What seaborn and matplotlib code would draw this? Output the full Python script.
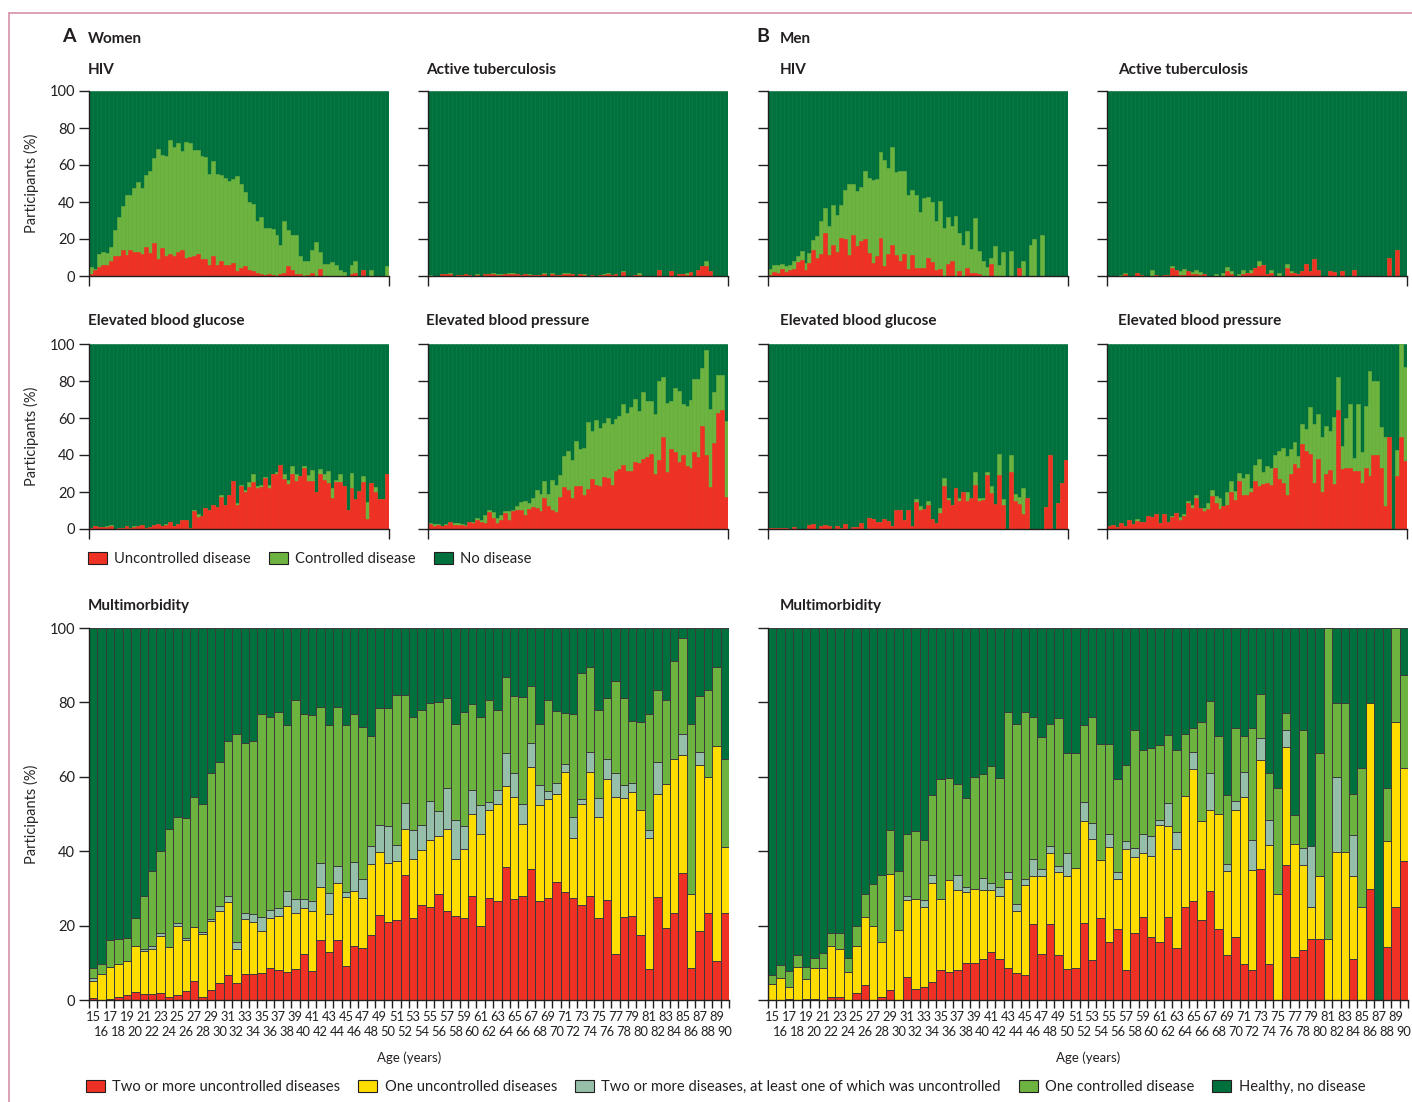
import numpy as np
import matplotlib
matplotlib.use("Agg")
import matplotlib.pyplot as plt
import matplotlib.patches as mpatches
from matplotlib.lines import Line2D
import seaborn as sns

# ---------------- data (percent of participants) ----------------
ages = list(range(15, 91))
stack_top = [100] * 76   # whole bar = 100 %, remainder is "no disease"

# top panels: "any" = top of light green (any disease), "unc" = top of red (uncontrolled)
w_hiv_any = [5, 4, 12, 13, 12.6, 15.7, 25, 32, 38, 44,
             44, 47.5, 51, 47.5, 54.6, 57, 64, 68.6, 65.4, 65,
             73.5, 70, 72, 67.6, 72.4, 72, 68, 68, 65, 64.3,
             55, 62, 55, 54.6, 53, 51.4, 52.4, 54, 50, 45.4,
             40, 39, 30, 32, 26, 26, 25.4, 22, 17, 30,
             25, 22, 22, 11, 8, 8, 14, 18.4, 13, 6.5,
             6.5, 7.6, 6, 3, 2, 0, 6, 8, 0, 3,
             0, 3, 0, 0, 0, 5.5]
w_hiv_unc = [1, 3, 5, 6, 6, 8, 11, 11, 14, 11.5,
             14, 13, 13, 12, 15.5, 12.5, 18, 9, 15, 11,
             12, 11, 13, 14, 10, 10.5, 11, 12, 9, 9,
             6, 11, 6, 8, 6, 6, 7, 2.5, 4.5, 5.4,
             3, 2.5, 1.5, 1, 0.5, 1, 0.5, 0, 1, 1.5,
             5.5, 3, 1, 1, 0, 0.5, 1.5, 0, 4, 0,
             0, 0, 0, 0, 0, 0, 1, 1.5, 0, 3,
             0, 0, 0, 0, 0, 0]

w_tb_any = [0.5, 0, 0, 1, 1, 1.5, 0, 0.5, 0.5, 1,
            0.3, 0, 1.3, 0, 1, 1, 1.8, 1, 1, 1,
            1.5, 1.8, 1, 0.5, 1, 1.3, 0.3, 0.8, 0.5, 1.8,
            0, 1.5, 0.8, 0.3, 1.8, 1.5, 1, 0, 1, 1.3,
            0, 0.3, 0, 0.5, 1, 1.5, 0.3, 1, 0, 2.5,
            0, 0, 0.8, 1.5, 0, 0, 0, 0, 3.5, 0,
            0, 2.5, 0, 1, 1, 1.8, 2, 0, 3.2, 5.4,
            8.1, 2.5, 0, 0, 0, 0]
w_tb_unc = [0, 0, 0, 1, 1, 1, 0, 0.5, 0.5, 1,
            0.3, 0, 0.3, 0, 1, 1, 1, 0.5, 0.5, 1,
            1, 1, 1, 0.5, 1, 0.5, 0.3, 0.3, 0.5, 1,
            0, 1, 0.8, 0.3, 1, 1, 1, 0, 1, 0.3,
            0, 0.3, 0, 0.5, 0.5, 1, 0.3, 1, 0, 2,
            0, 0, 0.5, 0.3, 0, 0, 0, 0, 3.5, 0,
            0, 2.5, 0, 1, 1, 0.3, 2, 0, 3.2, 5.4,
            5.4, 2.5, 0, 0, 0, 0]

w_glu_any = [0.5, 1.5, 1, 1, 1.5, 2, 0, 0.5, 0.5, 1.5,
             0.3, 1.5, 1.5, 2, 0.3, 1, 2, 2.5, 1.5, 2.8,
             3.6, 1.5, 2.7, 5, 5, 0.5, 10.3, 8.3, 7, 11.4,
             10.5, 13, 12, 18.4, 13, 18.4, 26, 14, 24, 21,
             25.6, 29.5, 23.5, 24, 28, 24, 29.5, 31, 34.5, 30,
             26.5, 34, 29.8, 28.5, 34, 29, 32, 20, 32.5, 30,
             31.5, 22, 26.5, 30, 23, 10.5, 30.5, 16, 20.5, 28.5,
             14.5, 25, 22.5, 16, 16, 29.5]
w_glu_unc = [0.5, 1.5, 1, 1, 1, 1.5, 0, 0.5, 0.5, 1.5,
             0.3, 1, 1.5, 2, 0.3, 1, 2, 2.5, 1.5, 2,
             3.6, 1.5, 2.7, 5, 5, 0.5, 10, 6.5, 7, 11.4,
             10.5, 13, 12, 17.5, 13, 18.4, 26, 13, 23.5, 20,
             22.5, 25.5, 22, 22.5, 27.5, 22, 29.5, 30, 34.5, 27,
             24.5, 29.5, 26, 28.5, 33, 26, 26, 20, 29.5, 26.5,
             25, 17, 25.5, 25.5, 23, 10.5, 22, 16, 20.5, 25.5,
             5.5, 25, 20, 16, 16, 29.5]

w_bp_any = [3, 2.5, 2.5, 1.5, 2.5, 4, 3.5, 3, 2.5, 2,
            4, 4, 6, 5, 7.5, 10.5, 9, 6, 7.5, 10,
            10, 10.5, 12.6, 14.5, 15, 14, 16.7, 21, 19, 26,
            19, 26.5, 24, 29, 39.5, 42, 37.5, 47.5, 43.5, 44,
            58, 53, 59, 54.5, 57.5, 60, 57, 59.5, 61, 67.5,
            62.5, 66, 70.5, 64, 74, 69, 69, 62, 80, 82,
            68, 69, 76, 74.5, 67.5, 66.5, 70, 81, 81, 87,
            97, 65, 74, 83, 83.5, 58.5]
w_bp_unc = [2.5, 1.5, 2.3, 1.5, 2, 3.6, 2, 2, 2, 1.5,
            3.6, 3, 5, 4, 3, 9, 6, 3, 5, 8.5,
            5, 10, 10.5, 10.5, 7.5, 11, 12, 11.5, 9.5, 16.5,
            12.6, 10.5, 9, 17.5, 22.5, 21, 16.5, 23, 23, 18.5,
            21.5, 27, 24, 23.5, 28, 27.5, 24, 31.5, 32.5, 34.5,
            31.5, 31.5, 36, 35.5, 38, 39, 40.5, 30, 37.5, 49.5,
            31, 43, 41.5, 36, 40, 34, 33, 41.5, 39, 55.5,
            40, 22.5, 46.5, 62.5, 64.5, 17.5]

m_hiv_any = [3.6, 6, 6, 6.5, 5.4, 6, 8, 10.8, 13.5, 7,
             12.4, 19.5, 21.6, 30, 36.8, 27, 38.4, 33, 38.4, 46.5,
             50, 50, 46, 48, 56.8, 53, 52, 52.4, 67, 62.7,
             58.4, 69.7, 56.2, 56.8, 56.8, 43.8, 46.5, 43.8, 34.6, 42,
             42.7, 40, 30, 40.5, 26, 32, 27, 32.4, 23, 16.8,
             24.3, 14.6, 31.4, 13.5, 8, 5, 9.7, 16.2, 6, 13,
             0, 13.5, 0, 4.3, 8, 0, 16.8, 20, 0, 22,
             0, 0, 0, 0, 0, 0]
m_hiv_unc = [0.5, 2, 1.5, 3.6, 2.2, 3.2, 3.8, 7.6, 8.6, 3.2,
             7, 14, 10, 12, 23, 11.3, 17, 13, 20.5, 20,
             11.5, 22, 16, 19, 20, 12.4, 7, 10.8, 20.5, 5.4,
             11.8, 17, 11.4, 8, 12, 3.8, 11.4, 4.3, 4.3, 4.3,
             10, 7.6, 3.2, 4, 0, 6.5, 8, 0, 2.5, 0,
             4.3, 1.4, 1.4, 1, 0, 0, 6.5, 0, 0, 0,
             0, 0, 0, 4.3, 0, 0, 0, 0, 0, 0,
             0, 0, 0, 0, 0, 0]

m_tb_any = [0, 0, 0, 0.5, 1.5, 0, 0, 1.4, 0.5, 0,
            0, 3.4, 0.3, 0, 0.3, 0.3, 5.5, 3.4, 2.5, 3.9,
            2.5, 2, 3.5, 2, 1, 0, 0, 1, 0, 1.5,
            5, 2.5, 0, 1, 3.4, 1.5, 3.5, 4.3, 8.2, 6,
            1, 3, 0, 1.5, 0, 6.3, 2.5, 1.5, 1, 2.5,
            6.5, 2.5, 9, 3.4, 0, 0, 2.5, 2, 0, 2.5,
            0, 0, 3, 0, 0, 0, 0, 0, 0, 0,
            0, 10, 0, 14, 0, 0]
m_tb_unc = [0, 0, 0, 0, 1, 0, 0, 1.4, 0.5, 0,
            0, 0, 0.3, 0, 0.3, 0.3, 4.5, 3.4, 0.5, 0.5,
            2.5, 1, 1, 0.5, 1, 0, 0, 0, 0, 0,
            2.5, 1, 0, 0, 1, 1.5, 1.5, 4.3, 5.5, 6,
            1, 1.5, 0, 0, 0, 4.3, 1.5, 1.5, 1, 2.5,
            6.5, 2.5, 9, 3.4, 0, 0, 2.5, 2, 0, 2.5,
            0, 0, 3, 0, 0, 0, 0, 0, 0, 0,
            0, 10, 0, 14, 0, 0]

m_glu_any = [0.8, 0.5, 0.3, 0.3, 0.3, 0, 1, 0, 0, 0,
             2, 2.5, 0, 1.5, 2, 1.5, 0, 1.5, 0.5, 2.5,
             0, 1, 1, 3.5, 0, 6, 5.5, 4, 4, 5.5,
             4.5, 1.5, 10.5, 10.5, 5, 10.5, 1.5, 16.2, 12.5, 11,
             15, 5.5, 3.5, 11.2, 27.3, 17, 13, 22, 16.5, 20,
             20, 16.5, 31, 17, 17, 31, 23, 13.5, 40.5, 16,
             0, 40, 19, 17.5, 22, 16.5, 0, 0, 0, 0,
             12, 40, 0, 14, 25, 37.5]
m_glu_unc = [0.8, 0.5, 0.3, 0.3, 0.3, 0, 1, 0, 0, 0,
             2, 2.5, 0, 1.5, 2, 1.5, 0, 1.5, 0.5, 2.5,
             0, 1, 1, 3.5, 0, 6, 5.5, 4, 4, 5.5,
             4.5, 1.5, 10.5, 10.5, 5, 10.5, 1.5, 14.6, 10.5, 11,
             13, 5.5, 3.5, 8.5, 23.5, 15.5, 13, 22, 15, 20,
             15, 16.5, 24, 15, 15.5, 29, 19.5, 13.5, 29, 13,
             0, 31, 15, 13.5, 8, 16.5, 0, 0, 0, 0,
             12, 40, 0, 14, 25, 37.5]

m_bp_any = [1.5, 2, 1, 3.5, 1.5, 5, 2.5, 5.5, 4, 4,
            7, 6.5, 8, 3, 8, 4, 7, 8.5, 6.5, 8,
            15, 13, 18.5, 11.5, 11.5, 14, 21, 18, 17, 12.5,
            20, 26, 20.5, 30.5, 27.5, 29.5, 22, 34.5, 38, 31,
            34, 33, 40, 42, 44, 39.5, 43.5, 47, 39.5, 56.5,
            54, 66, 57, 62, 50, 55.5, 53, 60.5, 82, 45,
            60, 67.6, 38.4, 67.6, 41.6, 66.5, 85.4, 80, 80, 55,
            49.7, 49.7, 0, 42.7, 100, 87.4]
m_bp_unc = [1.5, 2, 1, 3.5, 1.5, 5, 2.5, 4.5, 4, 4,
            7, 6.5, 8, 3, 8, 4, 6.5, 8.5, 5, 7,
            14, 11.5, 16.5, 11.5, 10, 11, 18, 14, 11, 12.5,
            13, 20, 15.5, 26, 18.5, 18.5, 20, 26, 23.5, 24.5,
            25, 24, 33, 27, 25, 18.5, 29.5, 35, 33, 46,
            42, 40.5, 25, 38, 20, 29.5, 32, 24.5, 64.3, 32.4,
            33, 33, 31.4, 31.4, 24.9, 33, 28.6, 40, 40, 33,
            12.4, 49.7, 0, 28.8, 49.7, 37]

# multimorbidity: tops of each stacked segment (red, yellow, grey-green, light green)
w_mm_red = [0.5, 0, 0.3, 0.8, 1.3, 2.2, 1.5, 1.5, 1.8, 0.9,
            1.3, 2.5, 5.1, 0.9, 2.7, 4.5, 6.8, 4.5, 7.1, 7.1,
            7.2, 8.5, 8.1, 7.5, 8.4, 12.3, 7.7, 16.2, 12.8, 16.2,
            9.2, 14.4, 13.9, 17.5, 22.9, 20.9, 21.6, 33.7, 22, 25.6,
            25, 28.5, 23.8, 22.5, 22, 28, 19.8, 27.4, 26.5, 35.8,
            27.1, 27.9, 35.2, 26.5, 27.4, 31.6, 29.1, 27.4, 25.6, 28,
            22, 27, 12.4, 22.2, 22.5, 17.5, 8.3, 27.7, 19.3, 23.5,
            34.1, 8.5, 18.6, 23.4, 10.5, 23.5]
w_mm_yel = [5, 7, 8.8, 9.6, 10.6, 14.4, 13.2, 13.7, 17.2, 14.2,
            20, 16.2, 19.6, 17.7, 21.3, 23.8, 26.3, 13.7, 21.7, 21.1,
            18.6, 22, 22.5, 25.4, 23.4, 24.7, 23.8, 30.5, 23.1, 31.4,
            27.7, 29.4, 27.4, 36.6, 39.8, 36.8, 37.3, 46.1, 37.9, 40.4,
            43.1, 44, 46.1, 37.9, 40.6, 49.9, 44.7, 51.2, 52.6, 57.5,
            54.5, 47.2, 62.6, 52.3, 54.1, 55.5, 61.4, 43.6, 52.7, 61.4,
            49.1, 59.5, 54.6, 54.4, 56, 51, 43.6, 55.4, 58.1, 64.7,
            65.8, 28.6, 63.1, 60, 68.3, 41.1]
w_mm_gry = [6, 7, 8.8, 9.6, 10.6, 14.4, 13.7, 14.5, 18, 14.2,
            20.7, 16.6, 19.6, 18.2, 21.7, 25.2, 28, 15.5, 23.4, 23.1,
            22.3, 24.3, 24.7, 29.2, 27.1, 27.1, 26.5, 36.8, 28.8, 36.1,
            29, 37, 32.5, 41.5, 47, 46.7, 41.6, 53, 45.8, 47,
            53.6, 50.8, 57, 48.3, 46.7, 56.4, 52.4, 53.3, 56.4, 66.5,
            61.1, 52.7, 69.2, 57.8, 56.3, 58.2, 63.5, 49.1, 54.1, 66.7,
            54.2, 64.9, 60.9, 57.8, 58.4, 51, 45.8, 64, 58.1, 64.7,
            71.4, 28.6, 66.7, 60, 68.3, 41.1]
w_mm_grn = [8.7, 9.7, 16, 16.4, 16.8, 22, 27.9, 34.6, 40, 46,
            49.1, 48.9, 54.5, 52.7, 61.1, 64, 69.5, 71.6, 69, 69.6,
            77, 76.1, 77.4, 74, 80.6, 76.9, 76.6, 78.8, 73.8, 78.8,
            73.8, 76.9, 73.4, 71, 78.6, 78.6, 82, 82, 76.2, 78,
            79.9, 80.2, 81.2, 74.1, 77.3, 79.5, 76.2, 80.7, 77.9, 86.9,
            81.8, 81.5, 84.5, 74.3, 80.7, 77.7, 77.1, 76.8, 87.8, 89.4,
            78, 81.1, 85.8, 81.1, 75, 74.6, 77, 83.3, 80.6, 91.2,
            97.2, 74.3, 81.6, 83.4, 89.4, 64.7]

m_mm_red = [0, 0, 0.3, 0, 0.4, 0.3, 0, 0.7, 0.7, 0,
            2, 3.9, 0, 0.9, 2.7, 0, 6.1, 3, 3.4, 4.9,
            8.1, 7.6, 8.1, 9.9, 9.9, 11, 13, 11, 8.5, 7.2,
            6.7, 20.5, 12.3, 20.5, 12, 8.3, 8.7, 20.7, 10.8, 22,
            15.5, 19.1, 8.1, 18.1, 22.2, 16.9, 15.5, 22.2, 13.9, 25,
            26.5, 21.6, 29.2, 19, 12.1, 16.9, 9.6, 8.1, 35.2, 9.6,
            0, 36.2, 11.5, 13.5, 16.4, 16.4, 0, 0, 0, 11,
            0, 29.8, 0, 14.2, 25, 37.3]
m_mm_yel = [4.2, 5.8, 3.6, 9, 5.6, 8.5, 8.5, 14.4, 13.7, 7.6,
            14.6, 22.2, 19.8, 15.5, 33.9, 18.7, 26.8, 27.1, 25, 31.4,
            27.1, 32.3, 29.5, 28.9, 29.8, 29.5, 29.5, 28, 32.5, 24,
            31, 33.2, 33.2, 39.5, 34.3, 33.2, 35.5, 48.1, 43.3, 37.6,
            41.1, 32.5, 40.7, 38.5, 39.5, 38.8, 47, 46.7, 40.6, 54.8,
            62.2, 48.2, 51, 49.9, 34.6, 51, 54.6, 34.9, 64.5, 41.8,
            28.5, 68.1, 42, 36.2, 24.9, 33.2, 16.4, 39.8, 39.8, 33.2,
            24.9, 79.8, 0, 42.7, 74.8, 62.3]
m_mm_gry = [4.2, 5.8, 3.6, 9, 5.6, 8.5, 8.5, 14.4, 13.7, 7.6,
            14.6, 22.2, 19.8, 15.5, 33.9, 18.7, 27.9, 27.1, 26.8, 33.5,
            27.1, 32.3, 33.7, 30.3, 29.8, 32.8, 31.4, 30.3, 34.3, 25.9,
            32.6, 38, 35.2, 41.3, 36.1, 39.5, 35.5, 53.3, 47.6, 37.6,
            44.7, 34.4, 42.7, 40.9, 44.7, 44, 48.5, 53, 45.2, 54.8,
            66.7, 48.2, 60.9, 49.9, 36.6, 53.6, 61.3, 43.1, 70.5, 48.3,
            28.5, 72.6, 42, 40.9, 41.5, 33.2, 16.4, 59.9, 39.8, 44.3,
            24.9, 79.8, 0, 42.7, 74.8, 62.3]
m_mm_grn = [6.6, 9.3, 7.9, 12, 9, 11.2, 12.6, 18.1, 18, 11.2,
            19.9, 28.5, 31.3, 33.5, 45.6, 34.6, 44.7, 45.4, 43.1, 55,
            59.5, 59.7, 58.1, 54.4, 59.9, 60.8, 62.9, 59.7, 77.4, 74.1,
            77.4, 76.2, 70.8, 74.1, 75.9, 66.5, 66.5, 74, 76.1, 68.7,
            68.7, 59.5, 63.2, 72.6, 67.1, 67.7, 68.5, 71.2, 67.1, 71.6,
            73.2, 74.8, 80.4, 71, 55, 73, 71, 73, 82.2, 61.1,
            56.9, 77.1, 49.7, 72.6, 41.5, 66.5, 100, 79.8, 79.8, 55.4,
            62.3, 79.8, 0, 56.9, 100, 87.4]

RED = "#EE3124"
LGREEN = "#6DB33F"
DGREEN = "#00703C"
YELLOW = "#FFDD00"
GREY = "#95BFA8"
INK = "#231F20"

# ---------------- figure ----------------
sns.set_style("ticks")
plt.rcParams["font.family"] = ["Lato", "DejaVu Sans"]
plt.rcParams["text.color"] = INK
plt.rcParams["axes.edgecolor"] = INK
plt.rcParams["xtick.color"] = INK
plt.rcParams["ytick.color"] = INK

W, H = 1412, 1102
fig = plt.figure(figsize=(W / 100, H / 100), dpi=100)


def box(left, top, width, height):
    return [left / W, 1 - (top + height) / H, width / W, height / H]


def ftext(x, y, s, **kw):
    fig.text(x / W, 1 - y / H, s, va="center", ha=kw.pop("ha", "left"), **kw)


def small_panel(left, top, any_, unc, labels):
    ax = fig.add_axes(box(left, top, 300, 185))
    for vals, col in [(stack_top, DGREEN), (any_, LGREEN), (unc, RED)]:
        sns.barplot(x=ages, y=vals, color=col, saturation=1, width=1,
                    errorbar=None, linewidth=0.4, edgecolor=col, ax=ax)
    ax.set_xlim(-0.5, 75.5)
    ax.set_ylim(0, 100)
    ax.set_yticks(range(0, 101, 20))
    ax.set_xticks([-0.5, 75.5])
    ax.set_xticklabels([])
    ax.set_xlabel("")
    ax.tick_params(axis="both", length=7, width=1, labelsize=10.5, pad=3)
    sns.despine(ax=ax)
    for sp in ["left", "bottom"]:
        ax.spines[sp].set_linewidth(1)
        ax.spines[sp].set_zorder(5)
    if labels:
        ax.set_ylabel("Participants (%)", fontsize=10.5)
        ax.yaxis.set_label_coords(-0.167, 0.5)
    else:
        ax.set_yticklabels([])
        ax.set_ylabel("")
    return ax


def multi_panel(left, red, yel, gry, grn, labels):
    ax = fig.add_axes(box(left, 628, 640, 372))
    for vals, col in [(stack_top, DGREEN), (grn, LGREEN), (gry, GREY),
                      (yel, YELLOW), (red, RED)]:
        sns.barplot(x=ages, y=vals, color=col, saturation=1, width=1,
                    errorbar=None, linewidth=0.7, edgecolor="#3a3a3a", ax=ax)
    ax.set_xlim(-0.5, 75.5)
    ax.set_ylim(0, 100)
    ax.set_yticks(range(0, 101, 20))
    # odd ages on the upper row as tick labels, even ages on a lower row
    ax.set_xticks(range(0, 76, 2))
    ax.set_xticklabels([str(a) for a in ages[::2]], fontsize=9.3)
    for i in range(1, 76, 2):
        ax.text(i, -0.086, str(ages[i]), transform=ax.get_xaxis_transform(),
                ha="center", va="center", fontsize=9.3)
    ax.set_xticks(np.arange(-0.5, 76, 1), minor=True)
    ax.tick_params(axis="x", which="major", length=0, pad=8)
    ax.tick_params(axis="x", which="minor", length=6, width=1)
    ax.tick_params(axis="y", length=7, width=1, labelsize=10.5, pad=3)
    ax.set_xlabel("")
    sns.despine(ax=ax)
    for sp in ["left", "bottom"]:
        ax.spines[sp].set_linewidth(1)
        ax.spines[sp].set_zorder(5)
    if labels:
        ax.set_ylabel("Participants (%)", fontsize=10.5)
        ax.yaxis.set_label_coords(-0.078, 0.5)
    else:
        ax.set_yticklabels([])
        ax.set_ylabel("")
    return ax


small_panel(89, 91, w_hiv_any, w_hiv_unc, True)
small_panel(428, 91, w_tb_any, w_tb_unc, False)
small_panel(768, 91, m_hiv_any, m_hiv_unc, False)
small_panel(1107, 91, m_tb_any, m_tb_unc, False)
small_panel(89, 344, w_glu_any, w_glu_unc, True)
small_panel(428, 344, w_bp_any, w_bp_unc, False)
small_panel(768, 344, m_glu_any, m_glu_unc, False)
small_panel(1107, 344, m_bp_any, m_bp_unc, False)
multi_panel(89, w_mm_red, w_mm_yel, w_mm_gry, w_mm_grn, True)
multi_panel(768, m_mm_red, m_mm_yel, m_mm_gry, m_mm_grn, False)

# titles
ftext(62, 37, "A", fontsize=14, fontweight="bold")
ftext(88, 39, "Women", fontsize=11, fontweight="bold")
ftext(756, 37, "B", fontsize=14, fontweight="bold")
ftext(780, 39, "Men", fontsize=11, fontweight="bold")
for x, y, s in [(88, 70, "HIV"), (426, 70, "Active tuberculosis"),
                (780, 70, "HIV"), (1118, 70, "Active tuberculosis"),
                (88, 321, "Elevated blood glucose"), (426, 321, "Elevated blood pressure"),
                (780, 321, "Elevated blood glucose"), (1118, 321, "Elevated blood pressure"),
                (88, 606, "Multimorbidity"), (780, 606, "Multimorbidity")]:
    ftext(x, y, s, fontsize=11, fontweight="bold")
ftext(409, 1058, "Age (years)", fontsize=9.5, ha="center")
ftext(1088, 1058, "Age (years)", fontsize=9.5, ha="center")

# legends
def patch(c):
    return mpatches.Patch(facecolor=c, edgecolor=INK, linewidth=0.8)

fig.legend([patch(RED), patch(LGREEN), patch(DGREEN)],
           ["Uncontrolled disease", "Controlled disease", "No disease"],
           loc="center left", bbox_to_anchor=(88 / W, 1 - 559 / H), ncol=3,
           frameon=False, fontsize=10.6, handlelength=1.3, handleheight=0.85,
           handletextpad=0.5, columnspacing=1.2, borderpad=0, borderaxespad=0)
fig.legend([patch(RED), patch(YELLOW), patch(GREY), patch(LGREEN), patch(DGREEN)],
           ["Two or more uncontrolled diseases", "One uncontrolled diseases",
            "Two or more diseases, at least one of which was uncontrolled",
            "One controlled disease", "Healthy, no disease"],
           loc="center left", bbox_to_anchor=(86 / W, 1 - 1087 / H), ncol=5,
           frameon=False, fontsize=10.6, handlelength=1.3, handleheight=0.85,
           handletextpad=0.5, columnspacing=1.2, borderpad=0, borderaxespad=0)

# pink page frame
fig.add_artist(Line2D([9 / W, 9 / W], [0, 1 - 13 / H], color="#D98FA6", lw=1.2,
                      transform=fig.transFigure))
fig.add_artist(Line2D([9 / W, 1], [1 - 13 / H, 1 - 13 / H], color="#D98FA6", lw=1.2,
                      transform=fig.transFigure))

fig.savefig("out.png", dpi=100)
